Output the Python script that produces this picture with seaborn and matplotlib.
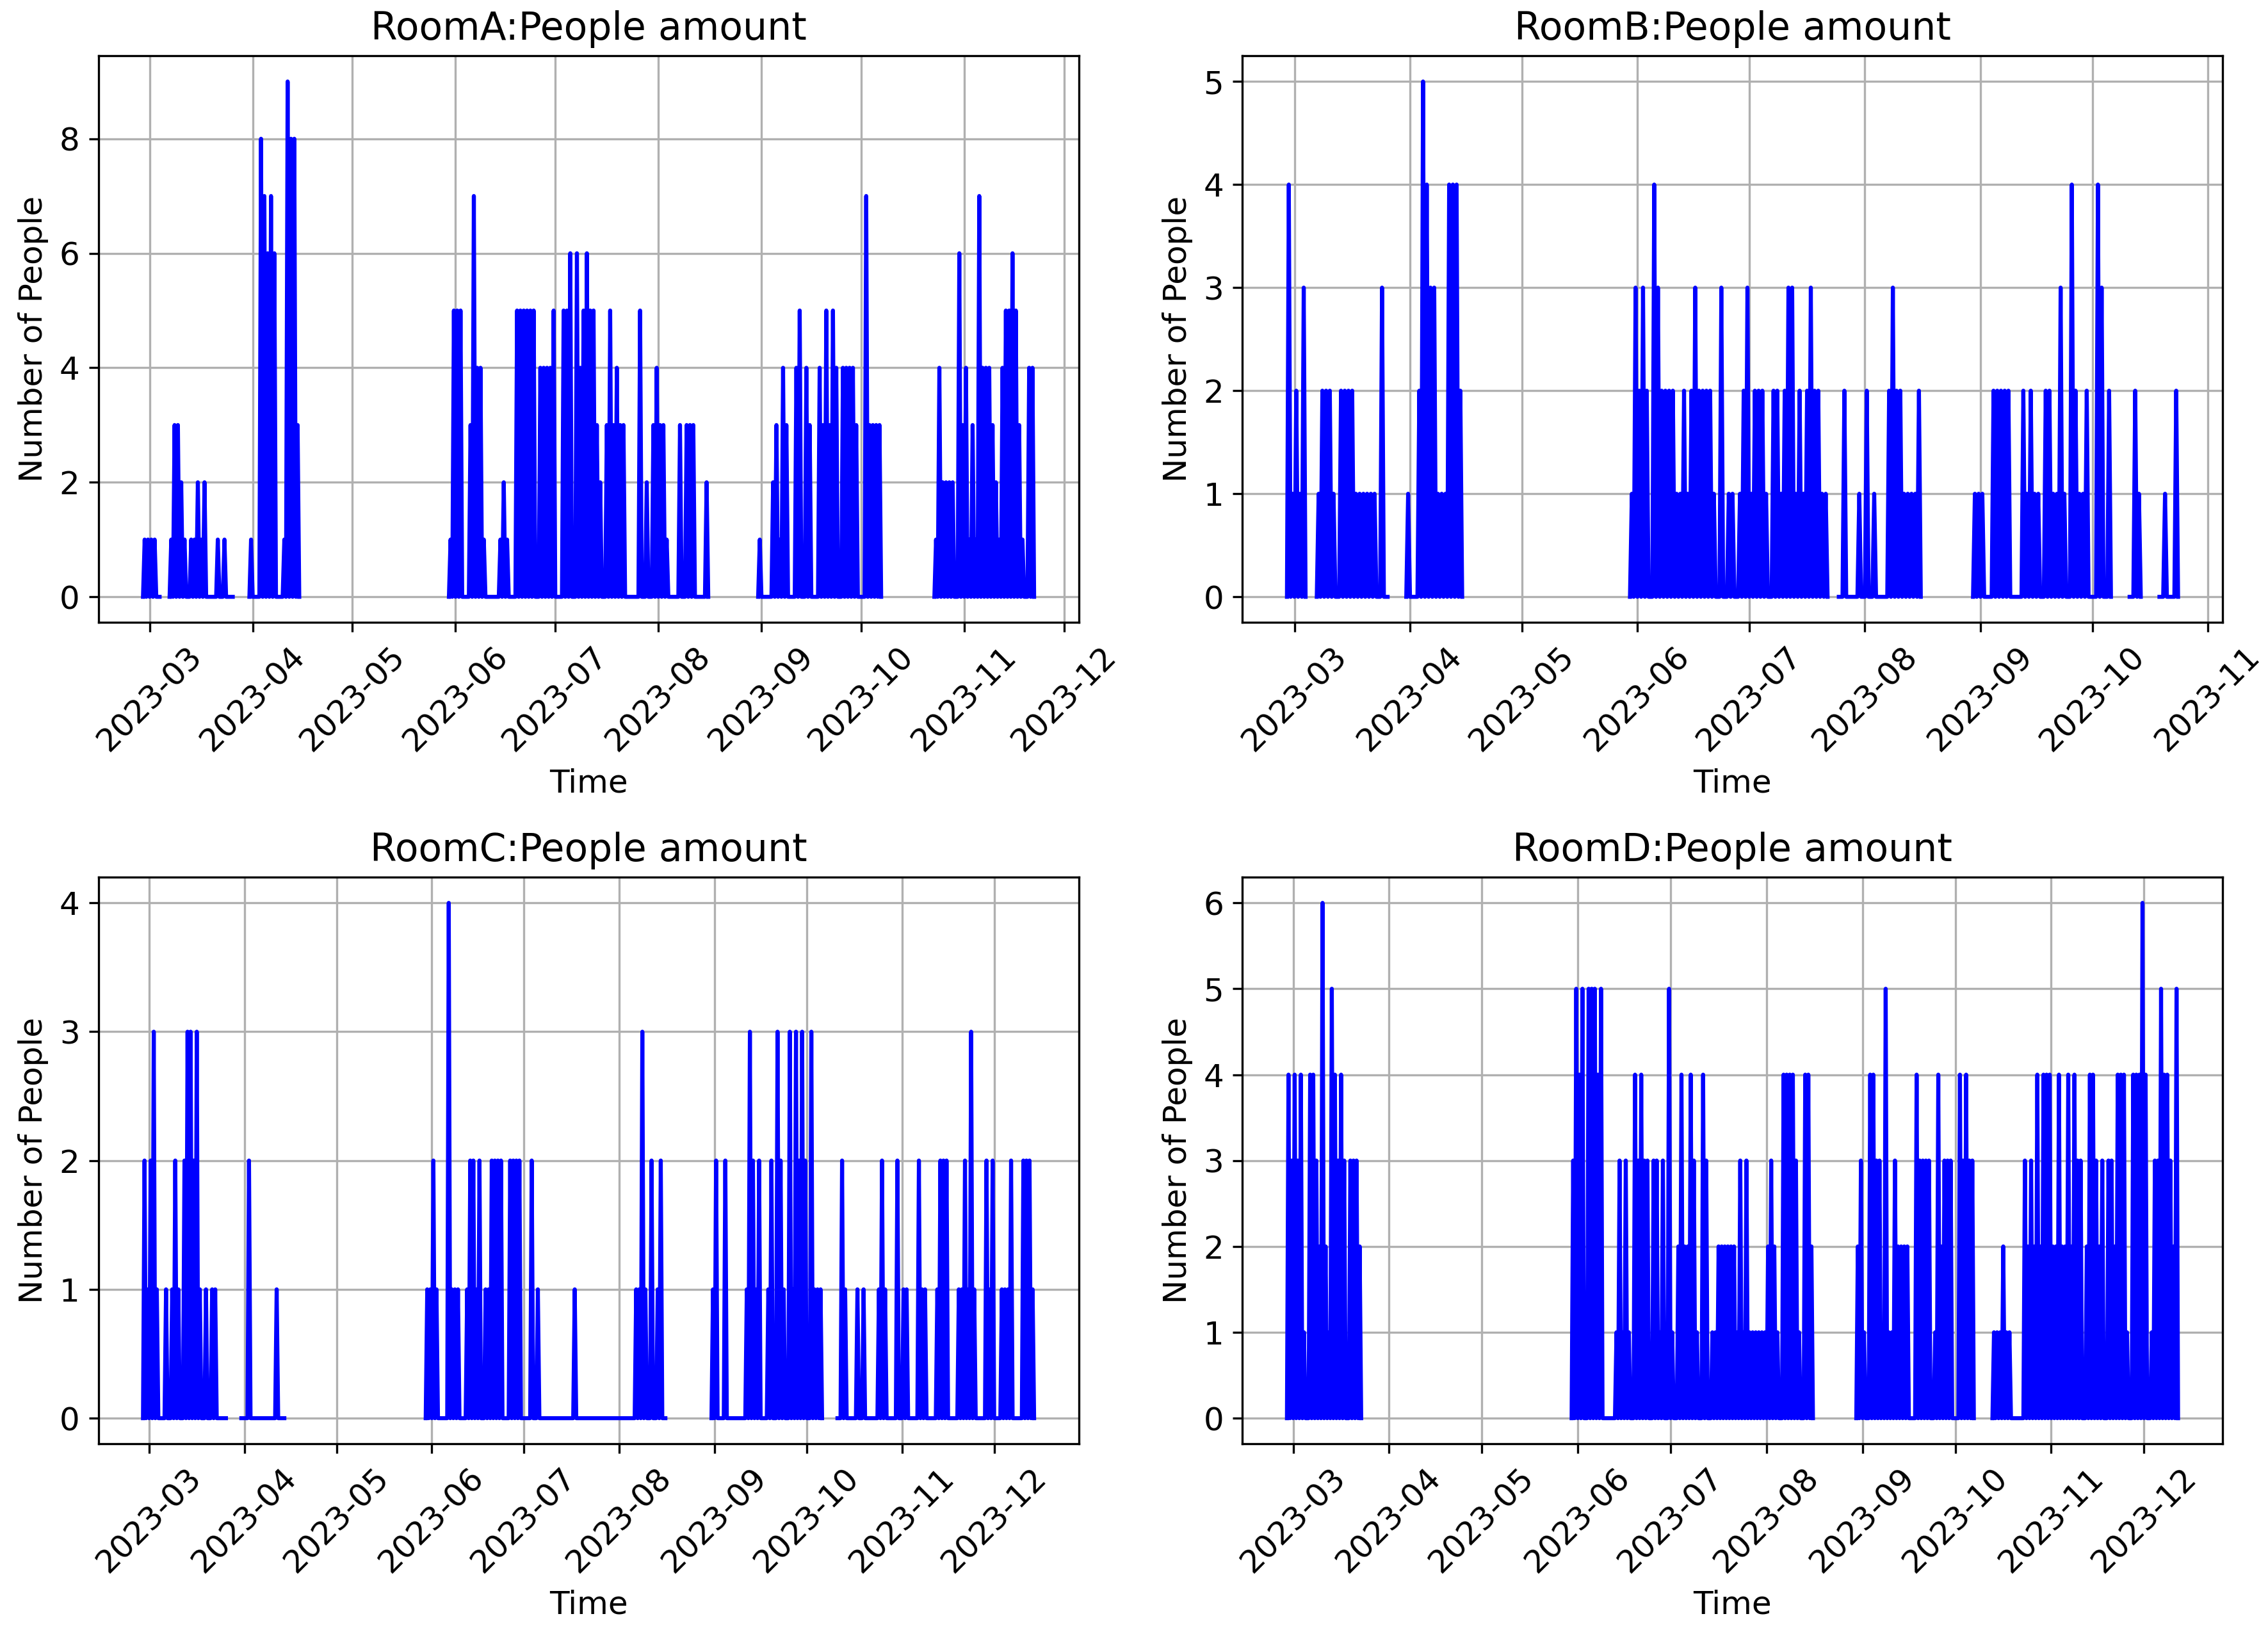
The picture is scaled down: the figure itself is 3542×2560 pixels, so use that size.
"""Occupancy of four rooms over 2023, one panel per room."""

import matplotlib

matplotlib.use("Agg")
import matplotlib.pyplot as plt
import pandas as pd
import seaborn as sns

plt.rcParams["font.size"] = 12

# day offsets below count from this date
START = pd.Timestamp("2023-03-01")

room_names = ["RoomA", "RoomB", "RoomC", "RoomD"]

# RoomA: peak number of people per day, and periods with readings
room_a_day = [-2, -1, 0, 1,
              6, 7, 8, 9, 10, 12, 13, 14, 15, 16, 20, 22,
              30, 33, 34, 35, 36, 37, 40, 41, 42, 43, 44,
              90, 91, 92, 93, 96, 97, 98, 99, 100, 105, 106, 107,
              110, 111, 112, 113, 114, 115, 117, 118, 119, 120, 121,
              124, 125, 126, 128, 129, 130, 131, 132, 133, 134, 135,
              137, 138, 139, 140, 141, 142, 147, 149, 151, 152, 153, 154, 155,
              159, 161, 162, 163, 167,
              183, 187, 188, 189, 190, 191, 194, 195, 197, 198,
              201, 202, 203, 204, 205, 206, 208, 209, 210, 211, 212,
              215, 216, 217, 218, 219,
              236, 237, 238, 239, 240, 241,
              243, 244, 245, 246, 247, 248, 249, 250, 251, 252,
              253, 254, 255, 256, 257, 258, 259, 260, 261, 262,
              264, 265]
room_a_count = [1, 1, 1, 1,
                1, 3, 3, 2, 1, 1, 1, 2, 1, 2, 1, 1,
                1, 8, 7, 6, 7, 6, 1, 9, 8, 8, 3,
                1, 5, 5, 5, 3, 7, 4, 4, 1, 1, 2, 1,
                5, 5, 5, 5, 5, 5, 4, 4, 4, 4, 5,
                5, 5, 6, 6, 4, 5, 6, 5, 5, 3, 2,
                3, 5, 3, 4, 3, 3, 5, 2, 3, 4, 3, 3, 1,
                3, 3, 3, 3, 2,
                1, 2, 3, 1, 4, 3, 4, 5, 4, 3,
                4, 3, 5, 3, 5, 4, 4, 4, 4, 4, 3,
                7, 3, 3, 3, 3,
                1, 4, 2, 2, 2, 2,
                6, 3, 4, 1, 3, 1, 7, 4, 4, 4,
                3, 2, 1, 4, 5, 5, 6, 5, 3, 1,
                4, 4]
room_a_spans = [(-2, 3), (6, 25), (30, 45), (90, 168), (183, 220), (236, 266)]

# RoomB
room_b_day = [-2, -1, 0, 1, 2,
              6, 7, 8, 9, 10, 12, 13, 14, 15, 16, 17, 18, 19, 20, 21, 23,
              30, 33, 34, 35, 36, 37, 38, 39, 40, 41, 42, 43, 44,
              90, 91, 92, 93, 94,
              96, 97, 98, 99, 100, 101, 102, 103, 104, 105, 106, 107, 108, 109, 110, 111, 112,
              114, 116, 117,
              119, 120, 121, 122, 123, 124, 125, 126,
              128, 129, 130, 131, 132, 133, 134, 135, 136, 137, 138, 139, 140, 141, 142,
              147, 151, 153, 155, 159, 160, 161, 162, 163, 164, 165, 166, 167,
              182, 183, 184, 187, 188, 189, 190, 191, 195, 196, 197, 198, 199,
              201, 202, 203, 204, 205, 206, 208, 209, 210, 211, 212, 215, 216, 218,
              225, 226, 233, 236]
room_b_count = [4, 1, 2, 1, 3,
                1, 2, 2, 2, 1, 2, 2, 2, 2, 1, 1, 1, 1, 1, 1, 3,
                1, 2, 5, 4, 3, 3, 1, 1, 1, 4, 4, 4, 2,
                1, 3, 2, 3, 2,
                4, 3, 2, 2, 2, 2, 1, 1, 2, 1, 2, 3, 2, 2, 2, 2, 1,
                3, 1, 1,
                1, 2, 3, 1, 2, 2, 2, 1,
                2, 2, 1, 2, 3, 3, 1, 2, 1, 2, 3, 2, 2, 1, 1,
                2, 1, 2, 1, 2, 3, 2, 2, 1, 1, 1, 1, 2,
                1, 1, 1, 2, 2, 2, 2, 2, 2, 1, 2, 1, 1,
                2, 2, 1, 1, 3, 1, 4, 2, 1, 1, 2, 4, 3, 2,
                2, 1, 1, 2]
room_b_spans = [(-2, 3), (6, 25), (30, 45), (90, 143), (146, 168),
                (182, 219), (224, 227), (232, 237)]

# RoomC
room_c_day = [-2, -1, 0, 1, 2, 5, 7, 8, 9, 11, 12, 13, 14, 15, 16, 18, 20, 21,
              32, 41,
              90, 91, 92, 93, 97, 98, 99, 100, 103, 104, 105, 106, 107,
              109, 110, 111, 112, 113, 114, 117, 118, 119, 120, 124, 126, 138,
              158, 159, 160, 161, 163, 165, 166,
              183, 184, 187, 194, 195, 196, 197, 198, 201, 202, 204, 205, 206,
              208, 209, 210, 211, 212, 213, 215, 216, 217, 218,
              225, 226, 230, 232, 237, 238, 239, 243, 245, 246, 250, 251, 252,
              256, 257, 258, 259, 263, 264, 265, 266, 267, 268, 272, 273, 274,
              277, 278, 279, 280, 284, 285, 286, 287]
room_c_count = [2, 1, 2, 3, 1, 1, 1, 2, 1, 2, 3, 3, 2, 3, 1, 1, 1, 1,
                2, 1,
                1, 1, 2, 1, 4, 1, 1, 1, 1, 2, 2, 1, 2,
                1, 1, 2, 2, 2, 2, 2, 2, 2, 2, 2, 1, 1,
                1, 1, 3, 1, 2, 1, 2,
                1, 2, 2, 1, 3, 2, 1, 2, 1, 2, 3, 2, 1,
                3, 1, 3, 2, 3, 2, 3, 1, 1, 1,
                2, 1, 1, 1, 1, 2, 1, 2, 1, 1, 2, 1, 1,
                1, 2, 2, 2, 1, 1, 2, 1, 3, 1, 2, 1, 2,
                1, 1, 1, 2, 2, 2, 2, 1]
room_c_spans = [(-2, 25), (30, 44), (90, 168), (183, 219), (224, 288)]

# RoomD
room_d_day = [-2, -1, 0, 1, 2, 3, 5, 6, 7, 8, 9, 10, 11, 12, 13, 14, 15, 16, 18, 19, 20, 21,
              90, 91, 92, 93, 95, 96, 97, 98, 99,
              104, 105, 106, 107, 108, 110, 111, 112, 113, 114,
              116, 117, 118, 119, 121, 122,
              124, 125, 126, 127, 128, 129, 130, 132, 133, 135, 136,
              137, 138, 139, 140, 141, 142,
              143, 144, 145, 146, 147, 148, 149, 150, 151, 152, 153, 154, 155, 156,
              158, 159, 160, 161, 162, 163, 165, 166, 167,
              182, 183, 184,
              186, 187, 188, 189, 190, 191, 192, 193, 194, 195, 196, 197, 198,
              201, 202, 203, 204, 205, 207, 208, 209, 210, 211, 212,
              215, 216, 217, 218, 219,
              226, 227, 228, 229, 230, 231,
              236, 237, 238, 239, 240, 241, 242, 243, 244, 245,
              246, 247, 248, 249, 250, 251, 252, 253, 254,
              256, 257, 258, 259, 260, 261,
              263, 264, 265, 266, 267, 268, 269,
              271, 272, 273, 274, 275,
              277, 278, 279, 280, 281, 282, 283, 284, 285]
room_d_count = [4, 3, 4, 3, 4, 1, 4, 4, 3, 2, 6, 2, 1, 5, 4, 3, 4, 3, 3, 3, 3, 2,
                3, 5, 4, 5, 5, 5, 5, 4, 5,
                1, 3, 1, 3, 1, 4, 3, 4, 3, 3,
                3, 3, 1, 3, 5, 1,
                2, 4, 2, 2, 4, 3, 1, 4, 3, 1, 1,
                2, 2, 2, 2, 2, 2,
                1, 3, 1, 3, 1, 1, 1, 1, 1, 1, 2, 3, 2, 1,
                4, 4, 4, 4, 3, 1, 4, 4, 2,
                2, 3, 1,
                4, 4, 3, 3, 1, 5, 1, 1, 3, 2, 2, 2, 2,
                4, 3, 3, 3, 3, 1, 4, 2, 3, 3, 3,
                4, 3, 4, 3, 3,
                1, 1, 1, 2, 1, 1,
                3, 2, 3, 2, 4, 2, 4, 4, 4, 2,
                2, 4, 2, 2, 4, 2, 4, 3, 3,
                2, 4, 4, 3, 2, 3,
                3, 3, 2, 4, 4, 4, 1,
                4, 4, 4, 6, 4,
                1, 3, 3, 5, 4, 4, 3, 2, 5]
room_d_spans = [(-2, 22), (90, 168), (182, 220), (226, 286)]

rooms = [
    (room_a_day, room_a_count, room_a_spans),
    (room_b_day, room_b_count, room_b_spans),
    (room_c_day, room_c_count, room_c_spans),
    (room_d_day, room_d_count, room_d_spans),
]


def build_frame(days, counts, spans):
    """Half-day readings: empty room at midnight, the day's peak at noon."""
    assert len(days) == len(counts)
    peaks = dict(zip(days, counts))
    rows = []
    for segment, (first, last) in enumerate(spans):
        for day in range(first, last):
            t = START + pd.Timedelta(days=day)
            rows.append({"segment": segment, "time": t, "people": 0})
            rows.append({"segment": segment, "time": t + pd.Timedelta(hours=12),
                         "people": peaks.get(day, 0)})
        rows.append({"segment": segment, "time": START + pd.Timedelta(days=last), "people": 0})
    return pd.DataFrame(rows)


fig, axes = plt.subplots(2, 2, figsize=(3542 / 300, 2560 / 300), dpi=300)
fig.subplots_adjust(left=0.0434, right=0.980, top=0.966, bottom=0.119, wspace=0.167, hspace=0.449)

for ax, name, (days, counts, spans) in zip(axes.flat, room_names, rooms):
    frame = build_frame(days, counts, spans)
    sns.lineplot(data=frame, x="time", y="people", units="segment", estimator=None,
                 color="blue", linewidth=1.5, ax=ax)
    ax.set_title(f"{name}:People amount")
    ax.set_xlabel("Time")
    ax.set_ylabel("Number of People")
    ax.tick_params(axis="x", rotation=45)
    ax.grid(True)

fig.savefig("out.png", dpi=300)
